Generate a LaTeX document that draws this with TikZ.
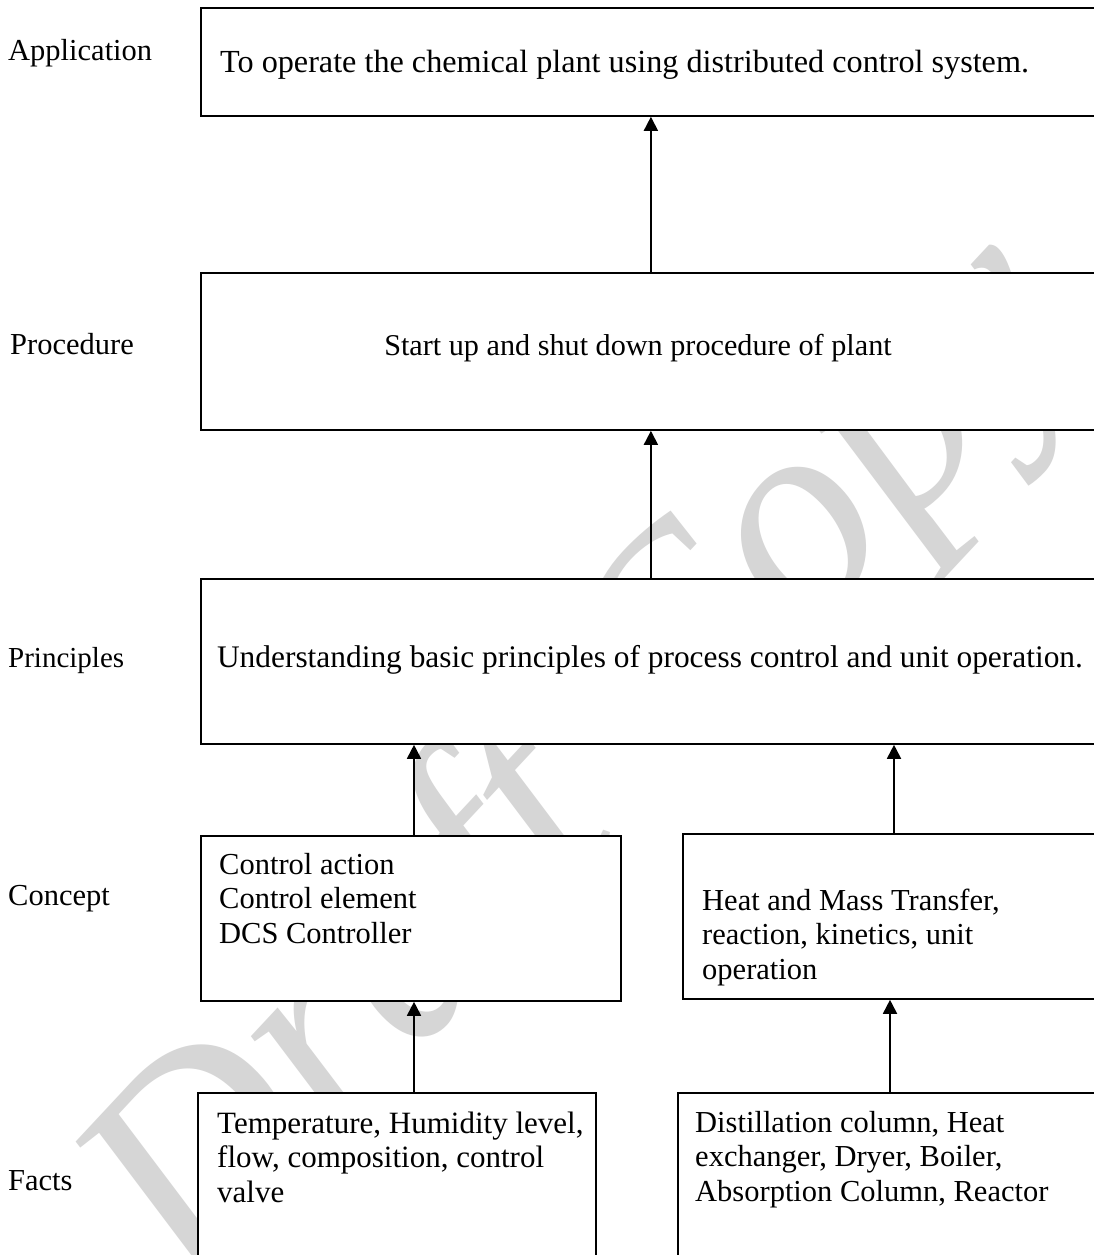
\documentclass[tikz,border=0pt]{standalone}
\usepackage{fontspec}
\setmainfont{Liberation Serif}
\newfontfamily\wmfont{Liberation Serif}
\usetikzlibrary{arrows.meta,calc}
\begin{document}
\begin{tikzpicture}[x=1pt,y=-1pt,
  box/.style={draw=black,line width=1.8pt,fill=white,rectangle,inner sep=0pt,anchor=north west},
  txt/.style={inner sep=0pt,font=\fontsize{30.5}{34.5}\selectfont,align=left,anchor=north west},
  lbl/.style={inner sep=0pt,font=\fontsize{30.5}{34.5}\selectfont,anchor=base west},
  ctxt/.style={inner sep=0pt,font=\fontsize{30.5}{34.5}\selectfont,anchor=base},
  arr/.style={line width=1.8pt,-{Triangle[length=14pt,width=14pt]}}]
\useasboundingbox (0,0) rectangle (1094,1255);
\clip (0,0) rectangle (1094,1255);
\fill[white] (0,0) rectangle (1094,1255);
% watermark
\node[rotate=47,inner sep=0pt,text=black!16,font=\wmfont\itshape\fontsize{290}{290}\selectfont] (wm) at (590,765) {Draft Copy};
% boxes
\node[box,minimum width=900pt,minimum height=108pt] (app) at (200,7) {};
\node[box,minimum width=900pt,minimum height=157pt] (proc) at (200,272) {};
\node[box,minimum width=900pt,minimum height=165pt] (pr) at (200,578) {};
\node[box,minimum width=420pt,minimum height=165pt] (cl) at (200,835) {};
\node[box,minimum width=420pt,minimum height=165pt] (cr) at (682,833) {};
\node[box,minimum width=398pt,minimum height=200pt] (fl) at (197,1092) {};
\node[box,minimum width=420pt,minimum height=200pt] (fr) at (677,1092) {};
% box texts
\node[lbl,font=\fontsize{32.2}{34.5}\selectfont] (appt) at (220,72) {To operate the chemical plant using distributed control system.};
\node[ctxt,font=\fontsize{30.2}{34.5}\selectfont] (proct) at (638,355) {Start up and shut down procedure of plant};
\node[ctxt,font=\fontsize{31.4}{34.5}\selectfont] (prt) at (650,667) {Understanding basic principles of process control and unit operation.};
\node[txt] (clt) at (219,849.85) {\strut Control action\\Control element\\DCS Controller};
\node[txt] (crt) at (702,885.85) {\strut Heat and Mass Transfer,\\reaction, kinetics, unit\\operation};
\node[txt,font=\fontsize{31}{34.5}\selectfont] (flt) at (217,1108.85) {\strut Temperature, Humidity level,\\flow, composition, control\\valve};
\node[txt] (frt) at (695,1107.85) {\strut Distillation column, Heat\\exchanger, Dryer, Boiler,\\Absorption Column, Reactor};
% level labels
\node[lbl] (lapp) at (8,60) {Application};
\node[lbl] (lproc) at (10,354) {Procedure};
\node[lbl,font=\fontsize{29}{34.5}\selectfont] (lpr) at (8,667) {Principles};
\node[lbl] (lcon) at (8,905) {Concept};
\node[lbl] (lfac) at (8,1190) {Facts};
% arrows
\draw[arr] (proc.north) -- (app.south);
\draw[arr] (pr.north) -- (proc.south);
\draw[arr] ($(cl.north west)+(214,0)$) -- ($(pr.south west)+(214,0)$);
\draw[arr] ($(cr.north west)+(212,0)$) -- ($(pr.south west)+(694,0)$);
\draw[arr] ($(fl.north west)+(217,0)$) -- ($(cl.south west)+(214,0)$);
\draw[arr] ($(fr.north west)+(213,0)$) -- ($(cr.south west)+(208,0)$);
\end{tikzpicture}
\end{document}
